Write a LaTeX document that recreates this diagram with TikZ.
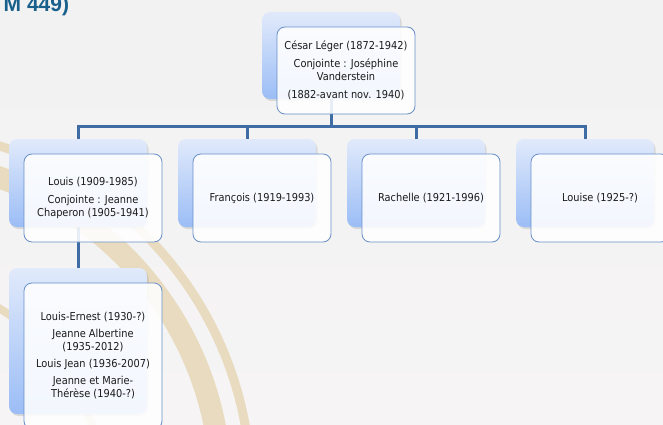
\documentclass[tikz,border=0pt]{standalone}
\usepackage{fontspec}
\setmainfont{DejaVu Sans}[FakeStretch=0.9]
\newfontfamily\titlefont{Liberation Sans}
\usetikzlibrary{shadows}
\definecolor{bgtop}{RGB}{242,242,242}
\definecolor{bgbot}{RGB}{246,244,244}
\definecolor{tanband}{RGB}{232,219,191}
\definecolor{backtop}{RGB}{225,234,251}
\definecolor{backbot}{RGB}{155,189,246}
\definecolor{frameblue}{RGB}{104,143,201}
\definecolor{connblue}{RGB}{64,108,165}
\definecolor{titleblue}{RGB}{24,95,140}
\definecolor{txt}{RGB}{26,26,26}
\begin{document}
\begin{tikzpicture}[x=1pt,y=-1pt,
  backbox/.style={rectangle, rounded corners=8pt, minimum width=138pt, inner sep=0pt,
    top color=backtop, bottom color=backbot, draw=none,
    drop shadow={shadow xshift=1.5pt, shadow yshift=-2pt, opacity=0.16, fill=black!70}},
  frontbox/.style={rectangle, rounded corners=8pt, minimum width=138pt, inner sep=0pt,
    fill=white, fill opacity=0.88, text opacity=1, draw=frameblue, line width=0.8pt,
    align=center, text=txt, font=\fontsize{10.9}{13}\selectfont},
  conn/.style={draw=connblue, line width=3pt},
  band/.style={draw=tanband}]
\useasboundingbox (0,0) rectangle (663,425);
\shade[top color=bgtop, bottom color=bgbot] (0,0) rectangle (663,425);
\begin{scope}
  \clip (0,0) rectangle (663,425);
  \draw[band, line width=22pt] (-110,490) circle[radius=331];
  \draw[band, line width=9pt] (-110,490) circle[radius=361];
  \draw[band, line width=8pt] (-110,490) circle[radius=212];
\end{scope}
\node[anchor=base west, inner sep=0pt, font=\titlefont\bfseries\fontsize{21}{21}\selectfont, text=titleblue] (title) at (3.5,12) {M 449)};
% back boxes
\node[backbox, minimum height=87pt] (cesarb) at (331,55.5) {};
\node[backbox, minimum height=88pt] (louisb) at (78,183) {};
\node[backbox, minimum height=88pt] (francoisb) at (247,183) {};
\node[backbox, minimum height=88pt] (rachelleb) at (416,183) {};
\node[backbox, minimum height=88pt] (louiseb) at (585,183) {};
\node[backbox, minimum height=146pt] (kidsb) at (78,341) {};
% connectors
\coordinate (bus) at (0,126.5);
\draw[conn] (louisb.north) |- (louiseb.north |- bus) -- (louiseb.north);
\draw[conn] (cesarb.south) -- (cesarb.south |- bus);
\draw[conn] (francoisb.north) -- (francoisb.north |- bus);
\draw[conn] (rachelleb.north) -- (rachelleb.north |- bus);
\draw[conn] (louisb.south) -- (kidsb.north);
% front boxes
\node[frontbox, minimum height=87pt] (cesar) at (346,70.5) {César Léger (1872-1942)\\[5pt]Conjointe : Joséphine\\Vanderstein\\[5pt](1882-avant nov. 1940)};
\node[frontbox, minimum height=88pt] (louis) at (93,198) {Louis (1909-1985)\\[5pt]Conjointe : Jeanne\\Chaperon (1905-1941)};
\node[frontbox, minimum height=88pt] (francois) at (262,198) {François (1919-1993)};
\node[frontbox, minimum height=88pt] (rachelle) at (431,198) {Rachelle (1921-1996)};
\node[frontbox, minimum height=88pt] (louise) at (600,198) {Louise (1925-?)};
\node[frontbox, minimum height=146pt] (kids) at (93,356) {Louis-Ernest (1930-?)\\[4pt]Jeanne Albertine\\(1935-2012)\\[4pt]Louis Jean (1936-2007)\\[4pt]Jeanne et Marie-\\Thérèse (1940-?)};
\end{tikzpicture}
\end{document}
